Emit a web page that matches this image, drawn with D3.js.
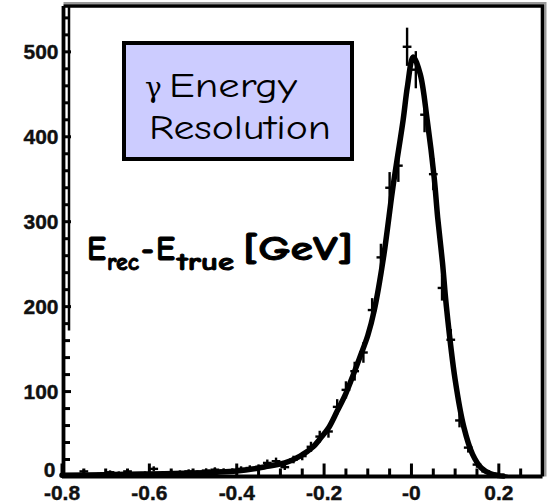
<!DOCTYPE html>
<html>
<head>
<meta charset="utf-8">
<script src="https://cdn.jsdelivr.net/npm/d3@7/dist/d3.min.js"></script>
<style>
  html, body { margin: 0; padding: 0; background: #fff; }
  svg { display: block; }
</style>
</head>
<body>
<script>
// ---- data ----
const binCenters = [-0.79,-0.77,-0.75,-0.73,-0.71,-0.69,-0.67,-0.65,-0.63,-0.61,
  -0.59,-0.57,-0.55,-0.53,-0.51,-0.49,-0.47,-0.45,-0.43,-0.41,
  -0.39,-0.37,-0.35,-0.33,-0.31,-0.29,-0.27,-0.25,-0.23,-0.21,
  -0.19,-0.17,-0.15,-0.13,-0.11,-0.09,-0.07,-0.05,-0.03,-0.01,
  0.01,0.03,0.05,0.07,0.09,0.11,0.13,0.15,0.17,0.19,0.21];
const binCounts = [2,2,6,2,3,5,4,6,3,4,
  9,4,5,5,6,5,7,8,7,7,
  9,10,11,16,18,11,20,24,35,47,
  53,82,102,124,146,196,258,340,366,506,
  479,426,356,222,161,66,34,14,6,3,1];
const binWidth = 0.02;

const fitX = [-0.80,-0.70,-0.60,-0.50,-0.45,-0.40,-0.35,-0.33,-0.29,-0.255,-0.225,-0.21,-0.19,-0.17,-0.15,-0.133,-0.117,-0.10,-0.085,-0.064,-0.044,-0.035,-0.019,-0.009,0.004,0.02,0.036,0.052,0.06,0.071,0.08,0.10,0.12,0.14,0.16,0.18,0.20,0.21];
const fitY = [1.5,2,3,4,5,6.5,10,12,16,24,35,44,57,77,98,120,142,166,196,258,335,366,420,460,494,474,420,352,305,252,200,114,58,26,10,3.5,1,0.5];

const xTickValues = [-0.8,-0.6,-0.4,-0.2,0,0.2];
const xTickLabels = ["-0.8","-0.6","-0.4","-0.2","-0","0.2"];
const xMinorTicks = [-0.75,-0.7,-0.65,-0.55,-0.5,-0.45,-0.35,-0.3,-0.25,-0.15,-0.1,-0.05,0.05,0.1,0.15,0.25];
const yTickValues = [0,100,200,300,400,500];
const yTickLabels = ["0","100","200","300","400","500"];
const yMinorTicks = [20,40,60,80,120,140,160,180,220,240,260,280,320,340,360,380,420,440,460,480,520,540];

const boxLines = ["Energy", "Resolution"];
const boxSymbol = "\u03B3";

// ---- layout ----
const W = 548, H = 504;
const pL = 63.5, pR = 542.5, pT = 6, pB = 476.5;

const svg = d3.select("body").append("svg").attr("width", W).attr("height", H);

const x = d3.scaleLinear().domain([-0.8, 0.3]).range([pL - 1.5, pR]);
const y = d3.scaleLinear().domain([0, 554]).range([pB, pT]);

// frame (with faint scan shadow)
svg.append("path")
  .attr("d", `M${pL},${pT - 3} H${pR + 3} V${pB}`)
  .attr("fill", "none").attr("stroke", "#999").attr("stroke-width", 2);
svg.append("path")
  .attr("d", `M${pL},${pT} H${pR} V${pB}`)
  .attr("fill", "none").attr("stroke", "#000").attr("stroke-width", 3.6);

const tickFont = "'Liberation Sans', Arial, sans-serif";

// axis lines
svg.append("line").attr("x1", pL - 1.5).attr("x2", pR).attr("y1", pB).attr("y2", pB)
  .attr("stroke", "#000").attr("stroke-width", 3.8);
svg.append("line").attr("x1", pL).attr("x2", pL).attr("y1", pT).attr("y2", pB + 1.5)
  .attr("stroke", "#000").attr("stroke-width", 3.8);

// ticks, drawn inward from the scales
const gTicks = svg.append("g").attr("stroke", "#000").attr("stroke-width", 3);
gTicks.selectAll("line.xmaj").data(xTickValues).join("line").attr("class", "xmaj")
  .attr("x1", d => x(d)).attr("x2", d => x(d)).attr("y1", pB).attr("y2", pB - 13);
gTicks.selectAll("line.xmin").data(xMinorTicks).join("line").attr("class", "xmin")
  .attr("x1", d => x(d)).attr("x2", d => x(d)).attr("y1", pB).attr("y2", pB - 8);
gTicks.selectAll("line.ymaj").data(yTickValues).join("line").attr("class", "ymaj")
  .attr("x1", pL).attr("x2", pL + 7.5).attr("y1", d => y(d)).attr("y2", d => y(d));
gTicks.selectAll("line.ymin").data(yMinorTicks).join("line").attr("class", "ymin")
  .attr("x1", pL).attr("x2", pL + 6.5).attr("y1", d => y(d)).attr("y2", d => y(d));

// tick labels
const gLab = svg.append("g").attr("font-family", tickFont).attr("font-weight", "bold")
  .attr("font-size", 21).attr("fill", "#111").attr("stroke", "#111").attr("stroke-width", 0.4);
gLab.selectAll("text.xl").data(xTickValues).join("text").attr("class", "xl")
  .attr("x", d => x(d)).attr("y", pB + 23).attr("text-anchor", "middle")
  .text((d, i) => xTickLabels[i]);
gLab.selectAll("text.yl").data(yTickValues).join("text").attr("class", "yl")
  .attr("x", d => d === 0 ? pL - 8 : pL - 5)
  .attr("y", d => y(d) + (d === 0 ? 0 : 7.5))
  .attr("text-anchor", "end")
  .text((d, i) => yTickLabels[i]);

// ladder-like inner line on upper part of y axis (scan artefact)
svg.append("line")
  .attr("x1", pL + 5.5).attr("x2", pL + 5.5)
  .attr("y1", y(554)).attr("y2", y(172))
  .attr("stroke", "#000").attr("stroke-width", 2.5);

// ---- data crosses ----
const bins = binCenters.map((c, i) => ({ c, n: binCounts[i] }));
const gData = svg.append("g").attr("stroke", "#000").attr("stroke-width", 2.4);
gData.selectAll("line.h").data(bins).join("line").attr("class", "h")
  .attr("x1", d => x(d.c - binWidth / 2)).attr("x2", d => x(d.c + binWidth / 2))
  .attr("y1", d => y(d.n)).attr("y2", d => y(d.n));
gData.selectAll("line.v").data(bins).join("line").attr("class", "v")
  .attr("x1", d => x(d.c)).attr("x2", d => x(d.c))
  .attr("y1", d => y(Math.max(0, d.n - Math.sqrt(d.n)))).attr("y2", d => y(d.n + Math.sqrt(d.n)));

// ---- fit curve ----
const fitPts = fitX.map((v, i) => [v, fitY[i]]);
svg.append("path").datum(fitPts)
  .attr("d", d3.line().x(d => x(d[0])).y(d => y(d[1])).curve(d3.curveCatmullRom.alpha(0.5)))
  .attr("fill", "none").attr("stroke", "#000").attr("stroke-width", 5.5)
  .attr("stroke-linejoin", "round").attr("stroke-linecap", "round");

// ---- label box ----
const comic = "'Comic Sans MS','Comic Neue','DejaVu Sans',sans-serif";
svg.append("rect").attr("x", 124).attr("y", 43).attr("width", 228).attr("height", 116)
  .attr("fill", "#ccccff").attr("stroke", "#000").attr("stroke-width", 4);
svg.append("text").attr("x", 145).attr("y", 97).attr("font-family", "'DejaVu Serif', serif")
  .attr("font-size", 28).attr("fill", "#000").text(boxSymbol);
svg.append("text").attr("x", 169).attr("y", 97).attr("font-family", comic)
  .attr("font-size", 34).attr("fill", "#000")
  .attr("textLength", 128).attr("lengthAdjust", "spacingAndGlyphs").text(boxLines[0]);
svg.append("text").attr("x", 149).attr("y", 139).attr("font-family", comic)
  .attr("font-size", 34).attr("fill", "#000")
  .attr("textLength", 182).attr("lengthAdjust", "spacingAndGlyphs").text(boxLines[1]);

// ---- axis title inside plot ----
const titleParts = [
  { t: "E", x: 87, w: 19, sub: false },
  { t: "rec", x: 107, w: 32, sub: true },
  { t: "-", x: 141, w: 13, sub: false },
  { t: "E", x: 156, w: 19, sub: false },
  { t: "true", x: 177, w: 57, sub: true },
  { t: "[GeV]", x: 243, w: 110, sub: false }
];
const gT = svg.append("g").attr("font-family", comic).attr("font-weight", "bold")
  .attr("fill", "#000").attr("stroke", "#000").attr("stroke-width", 0.9);
titleParts.forEach(p => {
  gT.append("text").attr("x", p.x).attr("y", p.sub ? 270 : 260)
    .attr("font-size", p.sub ? 24 : 34)
    .attr("textLength", p.w).attr("lengthAdjust", "spacingAndGlyphs").text(p.t);
});
</script>
</body>
</html>
